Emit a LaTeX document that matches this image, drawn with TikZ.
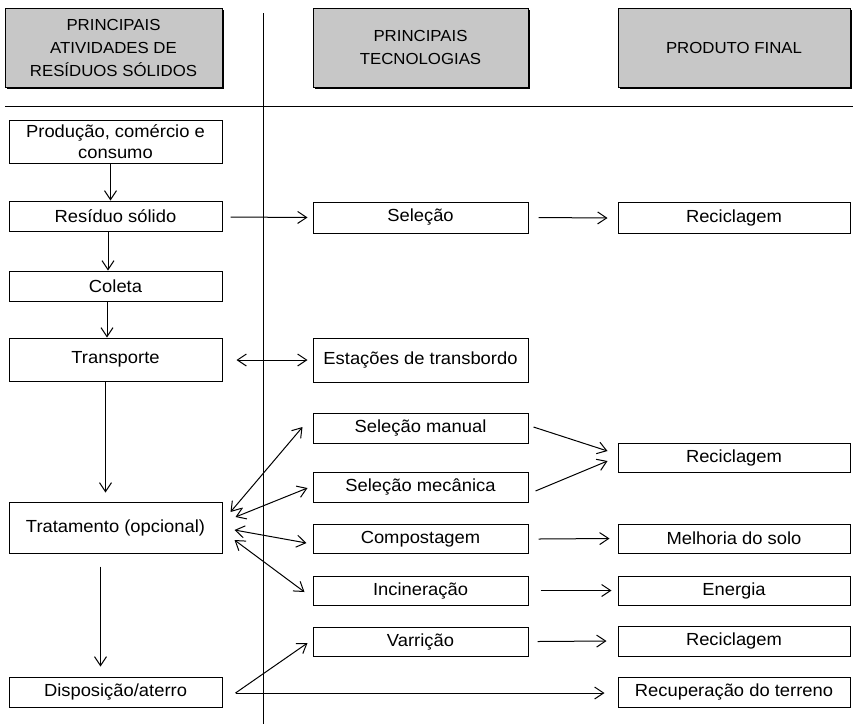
\documentclass[tikz,border=0pt]{standalone}
\usepackage{fontspec}
\setmainfont{Liberation Sans}[FakeStretch=1.05]
\usetikzlibrary{arrows.meta,calc,shadows}
\begin{document}
\begin{tikzpicture}[x=1pt,y=-1pt,
  line width=1pt,
  box/.style={draw=black, line width=1pt, fill=white, inner sep=0pt, align=center,
    font=\fontsize{17.5}{21}\selectfont},
  lbox/.style={box, minimum width=213pt},
  mbox/.style={box, minimum width=215pt},
  rbox/.style={box, minimum width=232pt},
  hbox/.style={draw=black, line width=1pt, fill=black!22, inner sep=0pt, align=center,
    minimum height=79pt, font=\fontsize{16}{23}\selectfont,
    drop shadow={shadow xshift=1.5pt, shadow yshift=-1.5pt, fill=black, opacity=1}},
  tip/.tip={Straight Barb[length=9pt,width=12pt,line width=1pt]},
  arr/.style={-tip, line width=1pt},
  darr/.style={tip-tip, line width=1pt}
]
\useasboundingbox (0,0) rectangle (853,724);

% header
\node[hbox, minimum width=217pt] (h1) at (113.5,47.5) {PRINCIPAIS\\ATIVIDADES DE\\RESÍDUOS SÓLIDOS};
\node[hbox, minimum width=215pt] (h2) at (420.5,47.5) {PRINCIPAIS\\TECNOLOGIAS};
\node[hbox, minimum width=232pt] (h3) at (734,47.5) {PRODUTO FINAL};

% dividers
\coordinate (vt) at (263,13);
\coordinate (vb) at (263,724);
\coordinate (hl) at (5,106);
\coordinate (hr) at (853,106);
\draw (vt) -- (vb);
\draw (hl) -- (hr);

% left column
\node[lbox, minimum height=43pt] (prod) at (115.5,141.5) {Produção, comércio e\\consumo};
\node[lbox, minimum height=30pt] (res) at (115.5,216) {Resíduo sólido};
\node[lbox, minimum height=30pt] (col) at (115.5,286) {Coleta};
\node[lbox, minimum height=43pt] (trans) at (115.5,359.5) {Transporte};
\node[lbox, minimum height=51pt] (trat) at (115.5,527.5) {Tratamento (opcional)};
\node[lbox, minimum height=30pt] (disp) at (115.5,692) {Disposição/aterro};

% middle column
\node[mbox, minimum height=31pt] (sel) at (420.5,217.5) {Seleção};
\node[mbox, minimum height=44pt] (est) at (420.5,360) {Estações de transbordo};
\node[mbox, minimum height=30pt] (selman) at (420.5,428) {Seleção manual};
\node[mbox, minimum height=30pt] (selmec) at (420.5,487) {Seleção mecânica};
\node[mbox, minimum height=29pt] (comp) at (420.5,539) {Compostagem};
\node[mbox, minimum height=29pt] (inc) at (420.5,590.5) {Incineração};
\node[mbox, minimum height=29pt] (var) at (420.5,641.5) {Varrição};

% right column
\node[rbox, minimum height=31pt] (rec1) at (734,218) {Reciclagem};
\node[rbox, minimum height=29pt] (rec2) at (734,457.5) {Reciclagem};
\node[rbox, minimum height=29pt] (mel) at (734,538.5) {Melhoria do solo};
\node[rbox, minimum height=29pt] (ene) at (734,590.5) {Energia};
\node[rbox, minimum height=30pt] (rec3) at (734,641) {Reciclagem};
\node[rbox, minimum height=30pt] (recup) at (734,692) {Recuperação do terreno};

% vertical flow
\draw[arr] ($(prod.south)+(-5,0)$) -- ($(res.north)+(-5,0)$);
\draw[arr] ($(res.south)+(-7.5,0)$) -- ($(col.north)+(-7.5,0)$);
\draw[arr] ($(col.south)+(-8.5,0)$) -- ($(trans.north)+(-8.5,0)$);
\draw[arr] ($(trans.south)+(-10,0)$) -- ($(trat.north)+(-10,-9)$);
\draw[arr] ($(trat.south)+(-15,13)$) -- ($(disp.north)+(-15,-10)$);

% horizontal flow
\draw[arr] ($(res.east)+(8,1)$) -- ($(sel.west)+(-5,0)$);
\draw[arr] ($(sel.east)+(10,0)$) -- ($(rec1.west)+(-10,0)$);
\draw[darr] ($(trans.east)+(14,0.5)$) -- ($(est.west)+(-5,0)$);

% treatment
\draw[darr] ($(trat.east)+(8,-15.5)$) -- ($(selman.west)+(-10,-1)$);
\draw[darr] ($(trat.east)+(13,-10.5)$) -- ($(selmec.west)+(-5,1)$);
\draw[darr] ($(trat.east)+(12,2.5)$) -- ($(comp.west)+(-6,4)$);
\draw[darr] ($(trat.east)+(12,12.5)$) -- ($(inc.west)+(-8,1.5)$);

\draw[arr] ($(selman.east)+(5,-1)$) -- ($(rec2.west)+(-10,-6.5)$);
\draw[arr] ($(selmec.east)+(7,4)$) -- ($(rec2.west)+(-10,3.5)$);
\draw[arr] ($(comp.east)+(10,0)$) -- ($(mel.west)+(-8,0)$);
\draw[arr] ($(inc.east)+(12,0)$) -- ($(ene.west)+(-6,0)$);
\draw[arr] ($(var.east)+(9,0)$) -- ($(rec3.west)+(-11,0)$);

% disposal
\draw[arr] ($(disp.east)+(13,1)$) -- ($(var.west)+(-5,1.5)$);
\draw[arr] ($(disp.east)+(13,1)$) -- ($(recup.west)+(-13,1)$);
\end{tikzpicture}
\end{document}
